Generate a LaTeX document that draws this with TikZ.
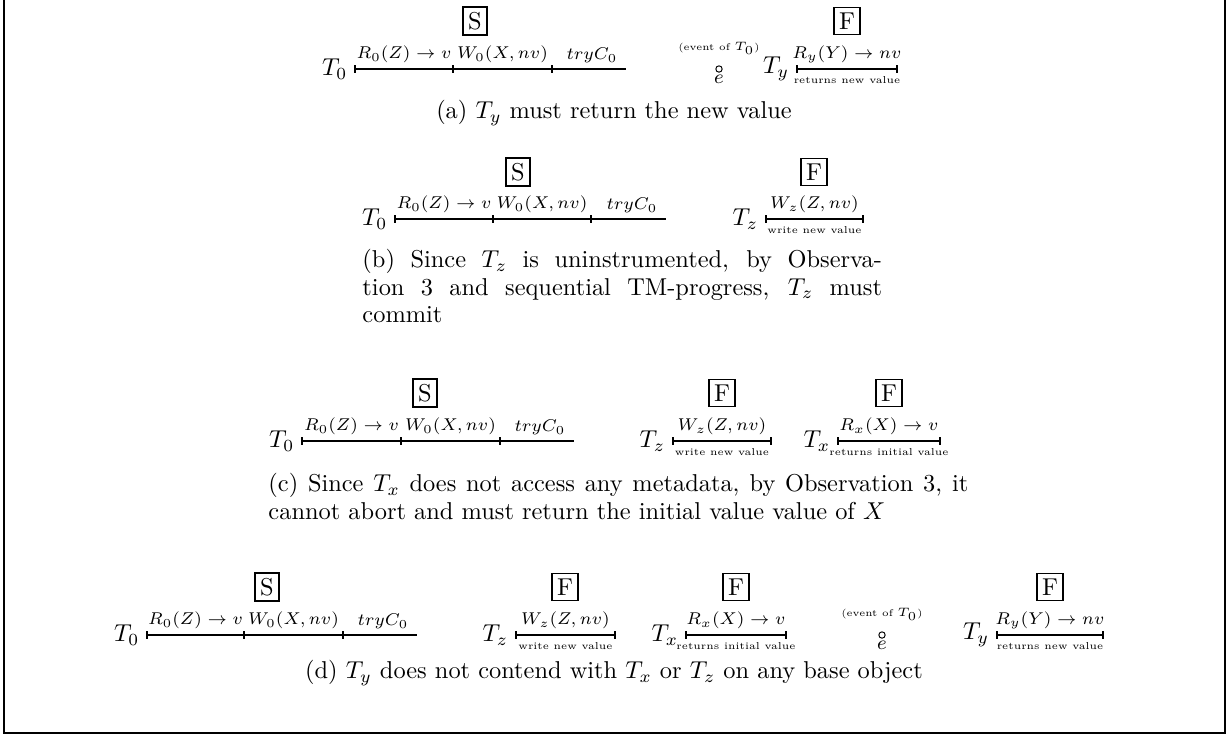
\documentclass[tikz,border=0pt]{standalone}
\usetikzlibrary{calc}
\tikzset{
  frameline/.style={line width=0.6pt},
  tl/.style={line width=0.6pt},
  statebox/.style={draw, line width=0.5pt, inner sep=2.1pt},
  oplab/.style={font=\scriptsize, anchor=south, inner sep=2.3pt},
  minilab/.style={font=\fontsize{4.1}{5}\selectfont, anchor=north, inner sep=3pt},
  evlab/.style={font=\fontsize{4}{5}\selectfont, anchor=south, inner sep=1pt},
  tname/.style={anchor=east, inner sep=3pt},
  evdot/.style={circle, draw, line width=0.4pt, inner sep=0pt, minimum size=2.6pt},
  evname/.style={font=\footnotesize, anchor=north, inner sep=0.6pt},
  captext/.style={inner sep=0pt, font=\fontsize{10}{11.2}\selectfont}
}
\newcommand\tickat[1]{\draw[tl] ([yshift=1.6pt]#1) -- ([yshift=-1.6pt]#1);}
\newcommand\Tzeroline[6]{%
  \coordinate (#1p0) at (#2,#6);
  \coordinate (#1p1) at (#3,#6);
  \coordinate (#1p2) at (#4,#6);
  \coordinate (#1p3) at (#5,#6);
  \draw[tl] (#1p0) -- (#1p3);
  \tickat{#1p0}\tickat{#1p1}\tickat{#1p2}
  \node[tname] (#1T) at (#1p0) {$T_0$};
  \node[oplab] (#1R) at ($(#1p0)!0.5!(#1p1)$) {$R_0(Z)\rightarrow v$};
  \node[oplab] (#1W) at ($(#1p1)!0.5!(#1p2)$) {$W_0(X,nv)$};
  \node[oplab,anchor=south east] (#1C) at ([xshift=-1pt]#1p3) {$tryC_0$};
}
\newcommand\Opline[7]{%
  \coordinate (#1s) at (#2,#4);
  \coordinate (#1e) at (#3,#4);
  \draw[tl] (#1s) -- (#1e);
  \tickat{#1s}\tickat{#1e}
  \node[tname] (#1T) at (#1s) {$#5$};
  \node[oplab] (#1op) at ($(#1s)!0.5!(#1e)$) {$#6$};
  \node[minilab] (#1info) at ($(#1s)!0.5!(#1e)$) {#7};
}
\newcommand\Eventmark[3]{%
  \node[evdot] (#1dot) at (#2,#3) {};
  \node[evlab] (#1lab) at ([yshift=3.2pt]#1dot.north) {(event of $T_0$)};
  \node[evname] (#1e) at (#1dot.south) {$e$};
}
\begin{document}
\begin{tikzpicture}[x=0.41pt,y=-0.41pt]
\useasboundingbox (0,0) rectangle (1231,736);
\draw[frameline] (4,0) -- (4,733) -- (1225,733) -- (1225,0);

% (a)
\Tzeroline{a}{355}{453}{552}{626}{69}
\node[statebox] (aS) at (475,21) {S};
\Eventmark{aev}{719}{69}
\Opline{ay}{797}{897}{69}{T_y}{R_y(Y)\rightarrow nv}{returns new value}
\node[statebox] (aF) at (847,21) {F};
\node[captext] (acap) at (614,113) {(a) $T_y$ must return the new value};

% (b)
\Tzeroline{b}{395}{493}{591}{666}{219}
\node[statebox] (bS) at (518,172) {S};
\Opline{bz}{766}{863}{219}{T_z}{W_z(Z,nv)}{write new value}
\node[statebox] (bF) at (814,172) {F};
\node[captext, anchor=north west, align=left] (bcap) at (362,249) {\makebox[213pt][s]{(b) Since $T_z$ is uninstrumented, by Observa-}\\ \makebox[213pt][s]{tion 3 and sequential TM-progress, $T_z$ must}\\ commit};

% (c)
\Tzeroline{c}{302}{401}{500}{574}{441}
\node[statebox] (cS) at (425,393) {S};
\Opline{cz}{673}{771}{441}{T_z}{W_z(Z,nv)}{write new value}
\node[statebox] (cF1) at (722,393) {F};
\Opline{cx}{838}{940}{441}{T_x}{R_x(X)\rightarrow v}{returns initial value}
\node[statebox] (cF2) at (889,393) {F};
\node[captext, anchor=north west, align=left] (ccap) at (268,473) {\makebox[287pt][s]{(c) Since $T_x$ does not access any metadata, by Observation 3, it}\\ cannot abort and must return the initial value value of $X$};

% (d)
\Tzeroline{d}{147}{244}{343}{417}{635}
\node[statebox] (dS) at (267,587) {S};
\Opline{dz}{516}{615}{635}{T_z}{W_z(Z,nv)}{write new value}
\node[statebox] (dF1) at (565,587) {F};
\Opline{dx}{686}{786}{635}{T_x}{R_x(X)\rightarrow v}{returns initial value}
\node[statebox] (dF2) at (736,587) {F};
\Eventmark{dev}{882}{635}
\Opline{dy}{997}{1103}{635}{T_y}{R_y(Y)\rightarrow nv}{returns new value}
\node[statebox] (dF3) at (1050,587) {F};
\node[captext] (dcap) at (614,673) {(d) $T_y$ does not contend with $T_x$ or $T_z$ on any base object};
\end{tikzpicture}
\end{document}
